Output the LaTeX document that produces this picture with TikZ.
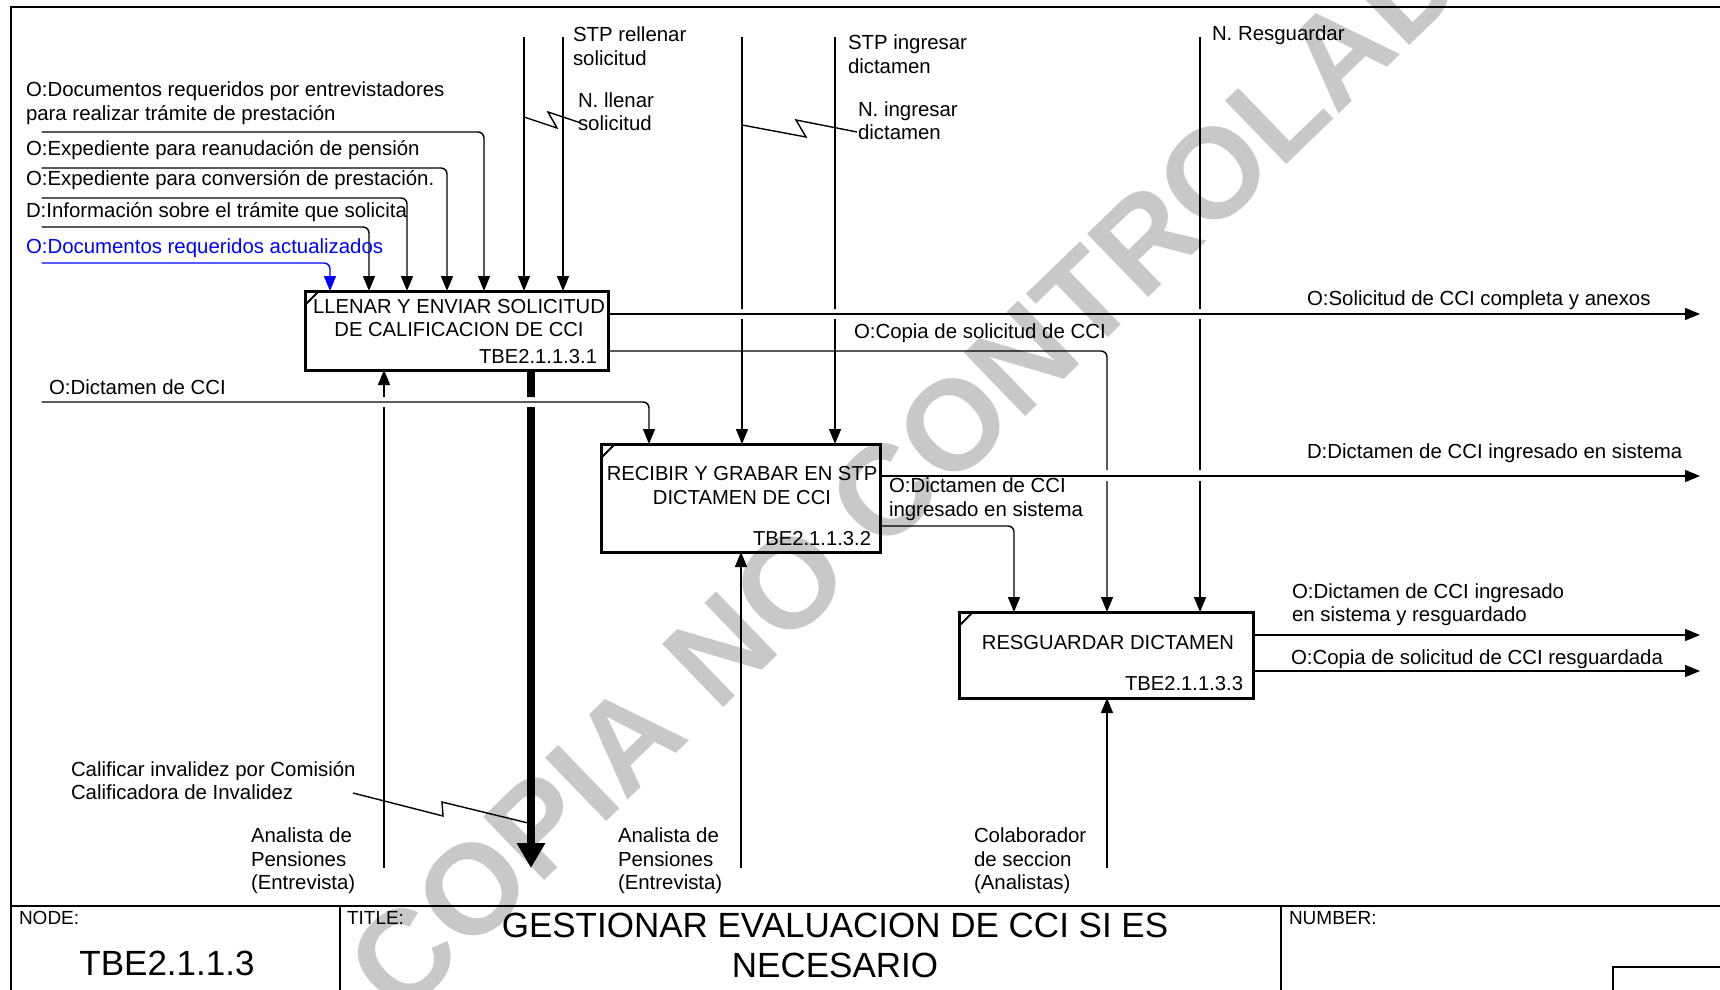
\documentclass[tikz,border=0pt]{standalone}
\usepackage{fontspec}
\setmainfont{Liberation Sans}
\usetikzlibrary{arrows.meta, positioning, calc}

\definecolor{wmgray}{RGB}{200,200,200}
\definecolor{icomblue}{RGB}{0,0,255}

\begin{document}
\begin{tikzpicture}[
    x=0.5pt, y=-0.5pt,
    every node/.style={inner sep=0pt, outer sep=0pt},
    txt/.style={font=\fontsize{10.2}{11.75}\selectfont, align=left, anchor=west},
    boxtxt/.style={font=\fontsize{10.1}{11.75}\selectfont, align=center},
    small/.style={font=\fontsize{9.5}{11}\selectfont, anchor=west},
    big/.style={font=\fontsize{17.5}{20}\selectfont, align=center},
    act/.style={draw, rectangle, line width=1.5pt},
    ln/.style={line width=0.7pt},
    arr/.style={line width=0.7pt, rounded corners=3pt, -{Triangle[length=7.5pt, width=6pt]}},
    callarr/.style={line width=4pt, -{Triangle[length=12.5pt, width=13.5pt]}}
]
    \useasboundingbox (0,0) rectangle (1720,990);
    % Watermark behind everything
    \node[font=\bfseries\fontsize{64}{64}\selectfont, text=wmgray, rotate=44] (wm) at (938,440) {COPIA NO CONTROLADA};
    % Frame and title block
    \draw[line width=1pt] (1720,7) -- (11,7) -- (11,990);
    \draw[line width=1pt] (11,906) -- (1720,906);
    \draw[line width=1pt] (340,906) -- (340,990);
    \draw[line width=1pt] (1281,906) -- (1281,990);
    \draw[line width=1pt] (1613,990) -- (1613,967) -- (1720,967);
    \node[small] (nodelbl) at (19,918) {NODE:};
    \node[big] (nodeno) at (167,963) {TBE2.1.1.3};
    \node[small] (titlelbl) at (347,918) {TITLE:};
    \node[big] (title) at (835,945) {GESTIONAR EVALUACION DE CCI SI ES\\NECESARIO};
    \node[small] (numlbl) at (1289,918) {NUMBER:};
    % Activity boxes
    \node[act, minimum width=151.5pt, minimum height=39.5pt] (b1) at (456.5,330.5) {};
    \node[act, minimum width=139.5pt, minimum height=54pt] (b2) at (740.5,498) {};
    \node[act, minimum width=147pt, minimum height=43pt] (b3) at (1106,655) {};
    \node[boxtxt] (b1t) at (459,318) {LLENAR Y ENVIAR SOLICITUD\\DE CALIFICACION DE CCI};
    \node[boxtxt, anchor=east] (b1n) at (597,357) {TBE2.1.1.3.1};
    \node[boxtxt] (b2t) at (742,485.5) {RECIBIR Y GRABAR EN STP\\DICTAMEN DE CCI};
    \node[boxtxt, anchor=east] (b2n) at (871,539) {TBE2.1.1.3.2};
    \node[boxtxt] (b3t) at (1108,643) {RESGUARDAR DICTAMEN};
    \node[boxtxt, anchor=east] (b3n) at (1243,684) {TBE2.1.1.3.3};
    \draw[line width=1pt] ([yshift=-7pt]b1.north west) -- ([xshift=7pt]b1.north west);
    \draw[line width=1pt] ([yshift=-7pt]b2.north west) -- ([xshift=7pt]b2.north west);
    \draw[line width=1pt] ([yshift=-7pt]b3.north west) -- ([xshift=7pt]b3.north west);
    % Free ends of the boundary arrows
    \coordinate (i1) at (41.5,132);
    \coordinate (i2) at (41.5,168);
    \coordinate (i3) at (41.5,198);
    \coordinate (i4) at (41.5,227);
    \coordinate (i5) at (41.5,263);
    \coordinate (i6) at (41.5,402);
    \coordinate (t1) at (524,37);
    \coordinate (t2) at (563,37);
    \coordinate (t3) at (742,37);
    \coordinate (t4) at (835,37);
    \coordinate (t5) at (1200,37);
    \coordinate (o1) at (1700,314);
    \coordinate (o2) at (1700,476);
    \coordinate (o3) at (1700,635);
    \coordinate (o4) at (1700,671);
    \coordinate (m1) at (384,868);
    \coordinate (m2) at (741,868);
    \coordinate (m3) at (1107,868);
    \coordinate (c1) at (531,868);
    % Inputs and controls of box 1
    \draw[arr] (i1) -| ($(b1.north west)+(179,0)$);
    \draw[arr] (i2) -| ($(b1.north west)+(142,0)$);
    \draw[arr] (i3) -| ($(b1.north west)+(102,0)$);
    \draw[arr] (i4) -| ($(b1.north west)+(64,0)$);
    \draw[arr, icomblue] (i5) -| ($(b1.north west)+(25,0)$);
    \draw[arr] (t1) -- (t1 |- b1.north);
    \draw[arr] (t2) -- (t2 |- b1.north);
    \draw[arr] (i6) -| ($(b2.north west)+(48,0)$);
    % Lines that jump the outputs at y=314 and y=476
    \begin{scope}
        \clip (0,0) rectangle (1720,309) (0,319) rectangle (1720,470) (0,481) rectangle (1720,990);
        \draw[arr] (t3) -- (t3 |- b2.north);
        \draw[arr] (t4) -- (t4 |- b2.north);
        \draw[arr] (t5) -- (t5 |- b3.north);
        \draw[arr] ($(b1.south east)+(0,-19)$) -| ($(b3.north west)+(148,0)$);
    \end{scope}
    % Lines that jump the input at y=402
    \begin{scope}
        \clip (0,0) rectangle (1720,397) (0,407) rectangle (1720,990);
        \draw[arr] (m1) -- (m1 |- b1.south);
        \draw[callarr] (c1 |- b1.south) -- (c1);
    \end{scope}
    % Outputs
    \draw[arr] (o1 -| b1.east) -- (o1);
    \draw[arr] (o2 -| b2.east) -- (o2);
    \draw[arr] ($(b2.south east)+(0,-26)$) -| ($(b3.north west)+(55,0)$);
    \draw[arr] (o3 -| b3.east) -- (o3);
    \draw[arr] (o4 -| b3.east) -- (o4);
    % Mechanisms
    \draw[arr] (m2) -- (m2 |- b2.south);
    \draw[arr] (m3) -- (m3 |- b3.south);
    % Squiggles
    \coordinate (s1) at (524,117);
    \coordinate (s2) at (742,125);
    \coordinate (s3) at (353,793);
    \draw[ln] (s1) -- ++(33,11) -- ++(-9,-16) -- ++(33,11);
    \draw[ln] (s2) -- ++(64,12) -- ++(-10,-17) -- ++(61,12);
    \draw[ln] (s3) -- ++(90,23) -- ++(-1,-14) -- ++(86,21);
    % Arrow labels
    \node[txt] (l1) at (26,103) {O:Documentos requeridos por entrevistadores\\para realizar trámite de prestación};
    \node[txt] (l2) at (26,150) {O:Expediente para reanudación de pensión};
    \node[txt] (l3) at (26,180) {O:Expediente para conversión de prestación.};
    \node[txt] (l4) at (26,212) {D:Información sobre el trámite que solicita};
    \node[txt, text=icomblue] (l5) at (26,248) {O:Documentos requeridos actualizados};
    \node[txt] (l6) at (573,46) {STP rellenar\\solicitud};
    \node[txt] (l7) at (578,111.5) {N. llenar\\solicitud};
    \node[txt] (l8) at (848,54) {STP ingresar\\dictamen};
    \node[txt] (l9) at (858,120.5) {N. ingresar\\dictamen};
    \node[txt] (l10) at (1212,35) {N. Resguardar};
    \node[txt] (l11) at (1307,300) {O:Solicitud de CCI completa y anexos};
    \node[txt] (l12) at (854,333) {O:Copia de solicitud de CCI};
    \node[txt] (l13) at (49,387) {O:Dictamen de CCI};
    \node[txt] (l14) at (1307,453) {D:Dictamen de CCI ingresado en sistema};
    \node[txt] (l15) at (889,499) {O:Dictamen de CCI\\ingresado en sistema};
    \node[txt] (l16) at (1292,604.5) {O:Dictamen de CCI ingresado\\en sistema y resguardado};
    \node[txt] (l17) at (1291,659) {O:Copia de solicitud de CCI resguardada};
    \node[txt] (l18) at (71,780.5) {Calificar invalidez por Comisión\\Calificadora de Invalidez};
    \node[txt] (l19) at (251,861) {Analista de\\Pensiones\\(Entrevista)};
    \node[txt] (l20) at (618,861) {Analista de\\Pensiones\\(Entrevista)};
    \node[txt] (l21) at (974,861) {Colaborador\\de seccion\\(Analistas)};
\end{tikzpicture}
\end{document}
